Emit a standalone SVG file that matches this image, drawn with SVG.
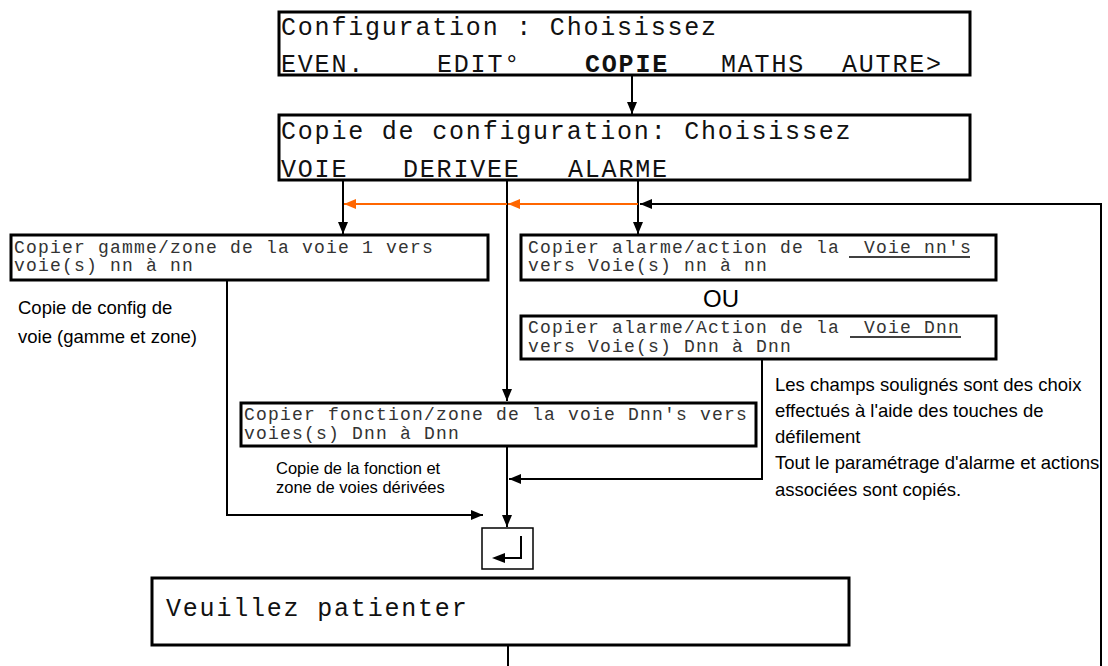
<svg xmlns="http://www.w3.org/2000/svg" width="1108" height="666" viewBox="0 0 1108 666">
<style>
.box{fill:#fff;stroke:#000;stroke-width:3}
.big{font-family:"Liberation Mono",monospace;font-size:25px;letter-spacing:1.8px;fill:#111}
.sm{font-family:"Liberation Mono",monospace;font-size:18px;letter-spacing:1.2px;fill:#333}
.note{font-family:"Liberation Sans",Arial,sans-serif;font-size:18.5px;fill:#000}
.note2{font-family:"Liberation Sans",Arial,sans-serif;font-size:16.5px;fill:#000}
.c{fill:none;stroke:#000;stroke-width:2}
.o{fill:none;stroke:#FF6600;stroke-width:2}
.u{stroke:#000;stroke-width:1.5}
</style>
<defs>
<marker id="ab" viewBox="0 0 12 10" refX="12" refY="5" markerWidth="12" markerHeight="10" markerUnits="userSpaceOnUse" orient="auto"><path d="M0,0L12,5L0,10z" fill="#000"/></marker>
<marker id="ao" viewBox="0 0 12 10" refX="12" refY="5" markerWidth="12" markerHeight="10" markerUnits="userSpaceOnUse" orient="auto"><path d="M0,0L12,5L0,10z" fill="#FF6600"/></marker>
</defs>
<g id="connectors">
<path class="c" d="M632,75V114" marker-end="url(#ab)"/>
<path class="c" d="M343,180V234" marker-end="url(#ab)"/>
<path class="c" d="M638,180V234" marker-end="url(#ab)"/>
<path class="c" d="M507,180V401" marker-end="url(#ab)"/>
<path class="o" d="M638,204H508" marker-end="url(#ao)"/>
<path class="o" d="M507,204H344" marker-end="url(#ao)"/>
<path class="c" d="M1101,666V204H640" marker-end="url(#ab)"/>
<path class="c" d="M227,280V515H483" marker-end="url(#ab)"/>
<path class="c" d="M762,359V479H509" marker-end="url(#ab)"/>
<path class="c" d="M507,446V527" marker-end="url(#ab)"/>
<path class="c" d="M508,645V666"/>
</g>
<g id="n1">
<rect class="box" x="279" y="12" width="691" height="63"/>
<text class="big" x="281" y="35">Configuration : Choisissez</text>
<text class="big" x="281" y="72">EVEN.</text>
<text class="big" x="437" y="72">EDIT°</text>
<text class="big" x="585" y="72" font-weight="bold">COPIE</text>
<text class="big" x="721" y="72">MATHS</text>
<text class="big" x="842" y="72">AUTRE&gt;</text>
</g>
<g id="n2">
<rect class="box" x="279" y="115" width="691" height="65"/>
<text class="big" x="281" y="139">Copie de configuration: Choisissez</text>
<text class="big" x="281" y="177">VOIE</text>
<text class="big" x="403" y="177">DERIVEE</text>
<text class="big" x="568" y="177">ALARME</text>
</g>
<g id="n3">
<rect class="box" x="11" y="235" width="477" height="45"/>
<text class="sm" x="14" y="253">Copier gamme/zone de la voie 1 vers</text>
<text class="sm" x="14" y="271">voie(s) nn à nn</text>
</g>
<g id="n4">
<rect class="box" x="521" y="235" width="475" height="45"/>
<text class="sm" x="528" y="253" xml:space="preserve">Copier alarme/action de la  Voie nn's</text>
<text class="sm" x="528" y="271">vers Voie(s) nn à nn</text>
<line class="u" x1="849" y1="257" x2="970" y2="257"/>
</g>
<g id="ou">
<text x="721" y="307" font-family="Liberation Sans, Arial, sans-serif" font-size="24" text-anchor="middle">OU</text>
</g>
<g id="n5">
<rect class="box" x="521" y="316" width="475" height="43"/>
<text class="sm" x="528" y="333" xml:space="preserve">Copier alarme/Action de la  Voie Dnn</text>
<text class="sm" x="528" y="352">vers Voie(s) Dnn à Dnn</text>
<line class="u" x1="850" y1="337" x2="961" y2="337"/>
</g>
<g id="n6">
<rect class="box" x="241" y="403" width="515" height="43"/>
<text class="sm" x="244" y="420">Copier fonction/zone de la voie Dnn's vers</text>
<text class="sm" x="244" y="439">voies(s) Dnn à Dnn</text>
</g>
<g id="enter">
<rect x="482" y="528" width="51" height="41" fill="#fff" stroke="#000" stroke-width="1.5"/>
<path d="M521,536V558H503" fill="none" stroke="#000" stroke-width="2"/>
<path d="M492,558L505,553V563z" fill="#000"/>
</g>
<g id="n7">
<rect class="box" x="152" y="578" width="697" height="67"/>
<text class="big" x="166" y="616">Veuillez patienter</text>
</g>
<g id="notes">
<text class="note" x="18" y="314">Copie de config de</text>
<text class="note" x="18" y="343">voie (gamme et zone)</text>
<text class="note2" x="276" y="474">Copie de la fonction et</text>
<text class="note2" x="276" y="493">zone de voies dérivées</text>
<text class="note" x="775" y="391">Les champs soulignés sont des choix</text>
<text class="note" x="775" y="417">effectués à l'aide des touches de</text>
<text class="note" x="775" y="443">défilement</text>
<text class="note" x="775" y="469">Tout le paramétrage d'alarme et actions</text>
<text class="note" x="775" y="496">associées sont copiés.</text>
</g>
</svg>
